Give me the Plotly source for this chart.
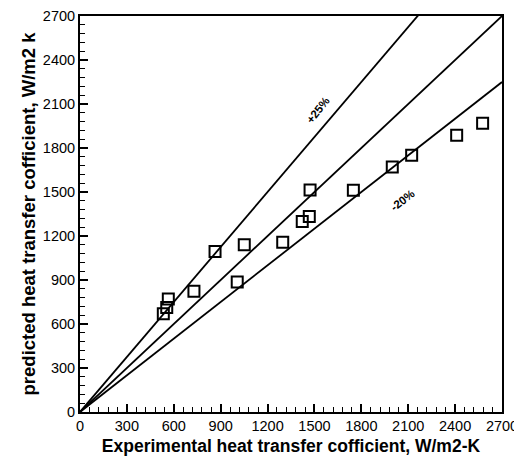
import plotly.graph_objects as go

exp_h = [533, 555, 565, 729, 864, 1006, 1051, 1297, 1422, 1467, 1472, 1749, 1998, 2122, 2410, 2576]
pred_h = [670, 712, 770, 824, 1094, 886, 1140, 1158, 1299, 1333, 1514, 1512, 1671, 1751, 1887, 1969]

line_x = [0, 2700]
ratio_upper = 1.25
ratio_mid = 1.0
ratio_lower = 1 / 1.2

tick_vals = [0, 300, 600, 900, 1200, 1500, 1800, 2100, 2400, 2700]

fig = go.Figure()
for r in [ratio_upper, ratio_mid, ratio_lower]:
    fig.add_trace(go.Scatter(x=line_x, y=[v * r for v in line_x], mode="lines",
                             line=dict(color="black", width=1.8), showlegend=False,
                             cliponaxis=True))
fig.add_trace(go.Scatter(x=exp_h, y=pred_h, mode="markers",
                         marker=dict(symbol="square-open", size=11, color="black",
                                     line=dict(width=2, color="black")),
                         showlegend=False))

fig.add_annotation(x=1523, y=2059, text="<b>+25%</b>", showarrow=False, textangle=-52,
                   font=dict(family="Liberation Sans", size=11.5, color="black"))
fig.add_annotation(x=2066, y=1446, text="<b>-20%</b>", showarrow=False, textangle=-38,
                   font=dict(family="Liberation Sans", size=11.5, color="black"))

axis_common = dict(range=[0, 2700], tickvals=tick_vals, ticks="inside", ticklen=8, tickwidth=2,
                   tickcolor="black", showline=True, linecolor="black", linewidth=2, mirror=True,
                   showgrid=False, zeroline=False, automargin=False,
                   minor=dict(dtick=60, ticks="inside", ticklen=5, tickwidth=1, tickcolor="black"),
                   tickfont=dict(family="Liberation Sans", size=14.5, color="black"))

fig.update_xaxes(**axis_common,
                 title=dict(text="<b>Experimental heat transfer cofficient, W/m2-K</b>",
                            font=dict(family="Liberation Sans", size=17.5, color="black"), standoff=6))
fig.update_yaxes(**axis_common,
                 title=dict(text="<b>predicted heat transfer cofficient, W/m2 k</b>",
                            font=dict(family="Liberation Sans", size=18.5, color="black"), standoff=2))

fig.update_layout(width=514, height=451, margin=dict(l=72, r=20, t=8, b=47),
                  plot_bgcolor="white", paper_bgcolor="white")

fig.write_html("out.html")
